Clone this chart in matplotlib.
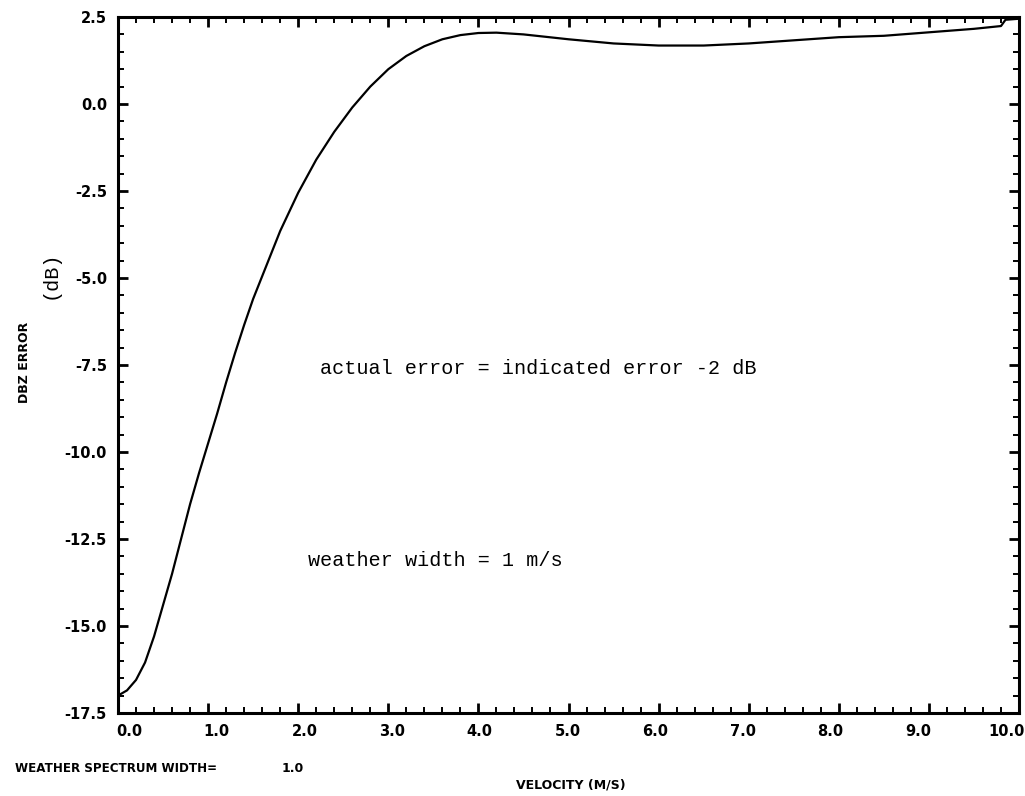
import matplotlib
matplotlib.use("Agg")
import matplotlib.pyplot as plt
from matplotlib.ticker import MultipleLocator, FixedLocator
from matplotlib.transforms import ScaledTranslation

# DBZ error against velocity, weather spectrum width 1 m/s
velocity = [0.0, 0.1, 0.2, 0.3, 0.4, 0.5, 0.6, 0.7, 0.8, 0.9, 1.0, 1.1, 1.2, 1.3,
            1.4, 1.5, 1.6, 1.8, 2.0, 2.2, 2.4, 2.6, 2.8, 3.0, 3.2, 3.4, 3.6, 3.8,
            4.0, 4.2, 4.5, 5.0, 5.5, 6.0, 6.5, 7.0, 7.5, 8.0, 8.5, 9.0, 9.5, 9.8,
            9.85, 10.0]
dbz_error = [-17.0, -16.85, -16.55, -16.05, -15.3, -14.4, -13.5, -12.5, -11.5,
             -10.6, -9.75, -8.9, -8.0, -7.15, -6.35, -5.6, -4.95, -3.65, -2.55,
             -1.6, -0.8, -0.1, 0.5, 1.0, 1.38, 1.66, 1.86, 1.98, 2.04, 2.05, 2.0,
             1.86, 1.74, 1.68, 1.68, 1.74, 1.83, 1.92, 1.96, 2.06, 2.16, 2.24,
             2.42, 2.45]

xticks = [0, 1, 2, 3, 4, 5, 6, 7, 8, 9, 10]
xtick_labels = ["0.0", "1.0", "2.0", "3.0", "4.0", "5.0", "6.0", "7.0", "8.0", "9.0", "10.0"]
yticks = [2.5, 0.0, -2.5, -5.0, -7.5, -10.0, -12.5, -15.0, -17.5]
ytick_labels = ["2.5", "0.0", "-2.5", "-5.0", "-7.5", "-10.0", "-12.5", "-15.0", "-17.5"]

W, H = 1025, 796
plot_font = ["DejaVu Sans"]
type_font = ["Liberation Mono", "DejaVu Sans Mono"]

fig = plt.figure(figsize=(W / 100, H / 100), dpi=100)
ax = fig.add_axes([118 / W, 1 - 713 / H, (1019 - 118) / W, (713 - 17) / H])

ax.plot(velocity, dbz_error, color="black", lw=1.6, solid_joinstyle="round")

ax.set_xlim(0, 10)
ax.set_ylim(-17.5, 2.5)
for s in ax.spines.values():
    s.set_linewidth(2.2)

ax.xaxis.set_major_locator(FixedLocator(xticks))
ax.xaxis.set_minor_locator(MultipleLocator(0.2))
ax.yaxis.set_major_locator(FixedLocator(yticks))
ax.yaxis.set_minor_locator(MultipleLocator(0.5))
ax.tick_params(which="both", direction="in", top=True, right=True, color="black")
ax.tick_params(which="major", length=7, width=2.0, pad=8)
ax.tick_params(which="minor", length=4.5, width=1.4)

ax.set_xticklabels(xtick_labels, family=plot_font, weight="bold", fontsize=10.5)
ax.set_yticklabels(ytick_labels, family=plot_font, weight="bold", fontsize=10.5)

# plotter spaced its velocity labels a little tighter than the ticks
for v, lab in zip(xticks, ax.get_xticklabels()):
    dx = (11 - 2.4 * v) / 100
    lab.set_transform(lab.get_transform() + ScaledTranslation(dx, 0, fig.dpi_scale_trans))

fig.text(25 / W, 1 - 362 / H, "DBZ ERROR", rotation=90, ha="center", va="center",
         family=plot_font, weight="bold", fontsize=9)
fig.text(50 / W, 1 - 275 / H, "(dB)", rotation=90, ha="center", va="center",
         family=type_font, fontsize=14.5)
fig.text(15 / W, 1 - 768 / H, "WEATHER SPECTRUM WIDTH=", ha="left", va="center",
         family=plot_font, weight="bold", fontsize=8.6)
fig.text(293 / W, 1 - 768 / H, "1.0", ha="center", va="center",
         family=plot_font, weight="bold", fontsize=9)
fig.text(571 / W, 1 - 785 / H, "VELOCITY (M/S)", ha="center", va="center",
         family=plot_font, weight="bold", fontsize=9)

# typed annotations
fig.text(320 / W, 1 - 368 / H, "actual error = indicated error -2 dB", ha="left",
         va="center", family=type_font, fontsize=14.5)
fig.text(308 / W, 1 - 560 / H, "weather width = 1 m/s", ha="left",
         va="center", family=type_font, fontsize=14.5)

fig.savefig("out.png", dpi=100, facecolor="white")
